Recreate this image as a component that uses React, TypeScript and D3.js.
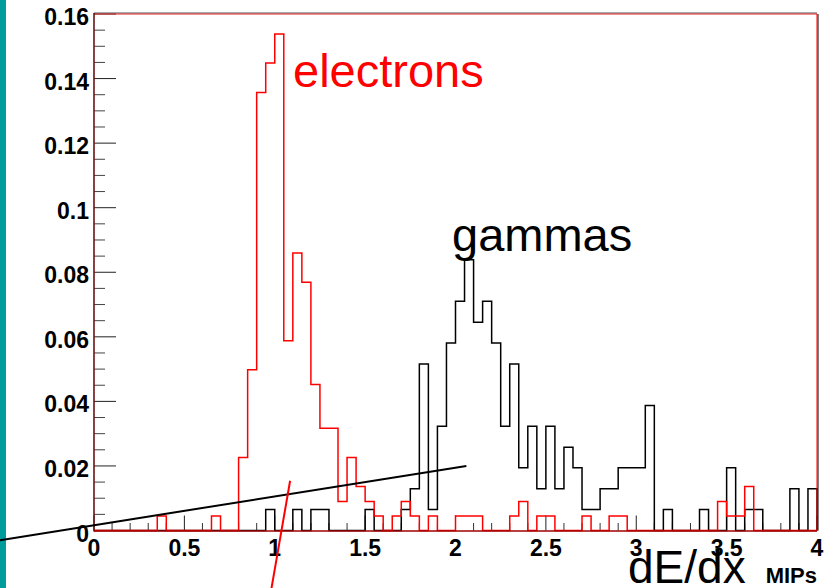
import React from "react";
import * as d3 from "d3";

// dE/dx histograms, 80 bins of 0.05 MIPs from 0 to 4 (normalised to unit area)
const binWidth = 0.05;
const xDomain = [0, 4];
const yDomain = [0, 0.16];

const electrons = [
  0, 0, 0, 0, 0, 0, 0, 0.0045, 0, 0,
  0, 0, 0, 0.0045, 0, 0, 0.0226, 0.0498, 0.1357, 0.1448,
  0.1538, 0.0588, 0.086, 0.0769, 0.0452, 0.0317, 0.0317, 0.009, 0.0226, 0.0136,
  0.009, 0.0045, 0, 0.0045, 0.009, 0.0045, 0, 0.0045, 0, 0,
  0.0045, 0.0045, 0.0045, 0, 0, 0, 0.0045, 0.009, 0, 0.0045,
  0.0045, 0, 0, 0, 0.0045, 0, 0, 0.0045, 0.0045, 0,
  0, 0, 0, 0, 0, 0, 0, 0, 0, 0.009,
  0.0045, 0.0045, 0.0136, 0, 0, 0, 0, 0, 0, 0,
];

const gammas = [
  0, 0, 0, 0, 0, 0, 0, 0, 0, 0,
  0, 0, 0, 0, 0, 0, 0, 0, 0, 0.0065,
  0, 0, 0.0065, 0, 0.0065, 0.0065, 0, 0, 0, 0,
  0.0065, 0, 0, 0, 0.0065, 0.0129, 0.0516, 0.0065, 0.0323, 0.0581,
  0.071, 0.0839, 0.0645, 0.071, 0.0581, 0.0323, 0.0516, 0.0194, 0.0323, 0.0129,
  0.0323, 0.0129, 0.0258, 0.0194, 0.0065, 0.0065, 0.0129, 0.0129, 0.0194, 0.0194,
  0.0194, 0.0387, 0, 0.0065, 0, 0, 0, 0.0065, 0, 0,
  0.0194, 0, 0.0065, 0.0065, 0, 0, 0, 0.0129, 0, 0.0129,
];

const xTickLabels = ["0", "0.5", "1", "1.5", "2", "2.5", "3", "3.5", "4"];
const yTickLabels = ["0", "0.02", "0.04", "0.06", "0.08", "0.1", "0.12", "0.14", "0.16"];

// hand-drawn annotation strokes, in data units
const slopeLine = [
  { x: -0.52, y: -0.003 },
  { x: 2.06, y: 0.02 },
];
const cutLine = [
  { x: 0.98, y: -0.0185 },
  { x: 1.085, y: 0.0154 },
];

const W = 839;
const H = 588;
const plot = { left: 94, right: 817, top: 14, bottom: 530.5 };
const FONT = "'Liberation Sans', Arial, Helvetica, sans-serif";

export default function App() {
  const x = d3.scaleLinear().domain(xDomain).range([plot.left, plot.right]);
  const y = d3.scaleLinear().domain(yDomain).range([plot.bottom, plot.top]);

  const stepPath = (vals: number[]) => {
    const pts: [number, number][] = [[xDomain[0], 0]];
    vals.forEach((v, i) => {
      pts.push([i * binWidth, v]);
      pts.push([(i + 1) * binWidth, v]);
    });
    pts.push([xDomain[1], 0]);
    return d3
      .line<[number, number]>()
      .x((d) => x(d[0]))
      .y((d) => y(d[1]))(pts) as string;
  };

  const seg = d3
    .line<{ x: number; y: number }>()
    .x((d) => x(d.x))
    .y((d) => y(d.y));

  const xMajor = xTickLabels.map((t) => +t);
  const xMinor = d3.range(0, 41).map((i) => i * 0.1).filter((v) => Math.abs(v * 2 - Math.round(v * 2)) > 1e-6);
  const yMajor = yTickLabels.map((t) => +t);
  const yMinor = d3.range(0, 33).map((i) => i * 0.005).filter((v) => Math.abs(v / 0.02 - Math.round(v / 0.02)) > 1e-6);

  return (
    <svg
      width={W}
      height={H}
      style={{ position: "absolute", left: 0, top: 0, display: "block", background: "#fff" }}
    >
      <rect x={0} y={0} width={W} height={H} fill="#fff" />
      <rect x={0} y={0} width={6} height={H} fill="#009b9b" />

      {/* y axis ticks */}
      {yMajor.map((v) => (
        <line key={"ym" + v} x1={plot.left} x2={plot.left + 22} y1={y(v)} y2={y(v)} stroke="#222" strokeWidth={1} />
      ))}
      {yMinor.map((v) => (
        <line key={"yn" + v} x1={plot.left} x2={plot.left + 11} y1={y(v)} y2={y(v)} stroke="#444" strokeWidth={1} />
      ))}
      {/* x axis ticks */}
      {xMajor.map((v) => (
        <line key={"xm" + v} x1={x(v)} x2={x(v)} y1={plot.bottom} y2={plot.bottom - 15} stroke="#222" strokeWidth={1} />
      ))}
      {xMinor.map((v) => (
        <line key={"xn" + v} x1={x(v)} x2={x(v)} y1={plot.bottom} y2={plot.bottom - 7.5} stroke="#333" strokeWidth={1} />
      ))}

      {/* histograms */}
      <path d={stepPath(gammas)} fill="none" stroke="#000" strokeWidth={1.5} />
      <path d={stepPath(electrons)} fill="none" stroke="#ff0000" strokeWidth={1.5} />

      {/* frame */}
      <line x1={plot.left} x2={plot.right} y1={plot.top - 1} y2={plot.top - 1} stroke="#555" strokeWidth={1} />
      <line x1={plot.left} x2={plot.right} y1={plot.top} y2={plot.top} stroke="#e02020" strokeWidth={1} />
      <line x1={plot.right + 1} x2={plot.right + 1} y1={plot.top} y2={plot.bottom} stroke="#000" strokeWidth={1} />
      <line x1={plot.right} x2={plot.right} y1={plot.top} y2={plot.bottom} stroke="#ff0000" strokeWidth={1} />
      <line x1={plot.left} x2={plot.left} y1={plot.top - 1} y2={plot.bottom + 1} stroke="#6a1515" strokeWidth={1.6} />
      <line x1={plot.left} x2={plot.right} y1={plot.bottom + 0.5} y2={plot.bottom + 0.5} stroke="#a00000" strokeWidth={1.6} />

      {/* tick labels */}
      {yTickLabels.map((t) => (
        <text
          key={"yl" + t}
          x={plot.left - 5}
          y={y(+t) + 11}
          textAnchor="end"
          fontFamily={FONT}
          fontWeight="bold"
          fontSize={23}
          fill="#000"
        >
          {t}
        </text>
      ))}
      {xTickLabels.map((t) => (
        <text
          key={"xl" + t}
          x={x(+t)}
          y={556}
          textAnchor="middle"
          fontFamily={FONT}
          fontWeight="bold"
          fontSize={23}
          fill="#000"
        >
          {t}
        </text>
      ))}

      {/* axis title */}
      <text x={628} y={583} fontFamily={FONT} fontSize={46} fill="#000">
        dE/dx
      </text>
      <text x={plot.right} y={583} textAnchor="end" fontFamily={FONT} fontWeight="bold" fontSize={22} fill="#000">
        MIPs
      </text>

      {/* series labels */}
      <text x={293} y={87} fontFamily={FONT} fontSize={47} fill="#ff0000">
        electrons
      </text>
      <text x={452} y={251} fontFamily={FONT} fontSize={47} fill="#000">
        gammas
      </text>

      {/* annotation strokes */}
      <path d={seg(slopeLine) as string} fill="none" stroke="#000" strokeWidth={2} />
      <path d={seg(cutLine) as string} fill="none" stroke="#ff0000" strokeWidth={2} />
    </svg>
  );
}
